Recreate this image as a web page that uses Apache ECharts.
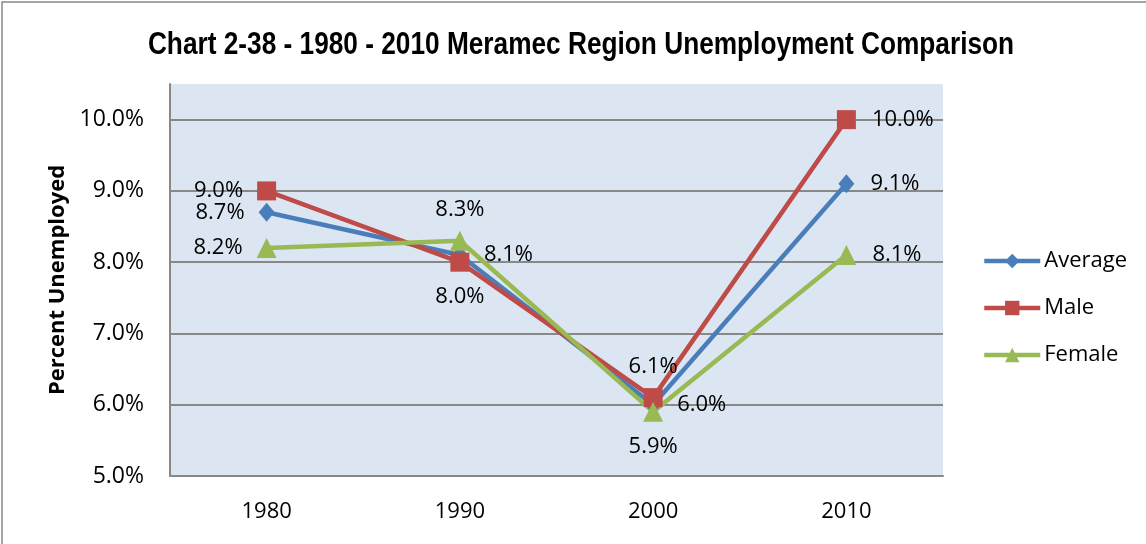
<!DOCTYPE html>
<html><head><meta charset="utf-8">
<script src="https://cdn.jsdelivr.net/npm/echarts@6/dist/echarts.min.js"></script>
<style>html,body{margin:0;padding:0;background:#fff}#c{width:1146px;height:544px}</style>
</head><body><div id="c"></div>
<script>
const categories = ['1980','1990','2000','2010'];
const average = [8.7, 8.1, 6.0, 9.1];
const male = [9.0, 8.0, 6.1, 10.0];
const female = [8.2, 8.3, 5.9, 8.1];
const averageLabelPos = ['left','right','right','right'];
const maleLabelPos = ['left','bottom','top','right'];
const femaleLabelPos = ['left','top','bottom','right'];
const titleText = 'Chart 2-38 - 1980 - 2010 Meramec Region Unemployment Comparison';
const yAxisName = 'Percent Unemployed';

const FONT = '"Liberation Sans", sans-serif';
const LFONT = '"Open Sans", "Noto Sans", sans-serif';
const DIST = { left: 14, right: 16, top: 10, bottom: 14 };

function mk(vals, pos) {
  return vals.map((v, i) => ({ value: v, label: { position: pos[i], distance: DIST[pos[i]] } }));
}
function series(name, vals, pos, color, symbol, size) {
  return {
    name, type: 'line', data: mk(vals, pos), symbol, symbolSize: size,
    lineStyle: { color, width: 4.5 }, itemStyle: { color },
    label: { show: true, fontFamily: LFONT, fontSize: 22, color: '#000',
      formatter: p => p.value.toFixed(1) + '%' },
    z: 3
  };
}
const chart = echarts.init(document.getElementById('c'), null, { renderer: 'canvas' });
chart.setOption({
  animation: false,
  graphic: [
    { type: 'rect', shape: { x: 2, y: 2, width: 1160, height: 560 },
      style: { fill: 'none', stroke: '#888', lineWidth: 1.5 }, silent: true },
    { type: 'text', x: 581, y: 45, scaleX: 0.82, originX: 0, originY: 0,
      style: { text: titleText, fontFamily: FONT, fontSize: 32, fontWeight: 'bold', fill: '#000',
        align: 'center', verticalAlign: 'middle' } }
  ],
  grid: { left: 170, right: 203, top: 84, bottom: 68, show: true, backgroundColor: '#DCE6F2', borderWidth: 0 },
  legend: { orient: 'vertical', left: 977, top: 245, itemWidth: 56, itemHeight: 18, itemGap: 25,
    lineStyle: { width: 4.5 },
    textStyle: { fontFamily: LFONT, fontSize: 22, color: '#000', padding: [0,0,0,-1] },
    data: ['Average','Male','Female'] },
  xAxis: { type: 'category', data: categories, boundaryGap: true,
    axisLine: { lineStyle: { color: '#888', width: 2 } }, axisTick: { show: false },
    axisLabel: { fontFamily: LFONT, fontSize: 22, color: '#000', margin: 25 } },
  yAxis: { type: 'value', min: 5, max: 10.5, interval: 1,
    name: yAxisName, nameLocation: 'middle', nameGap: 100, nameRotate: 90,
    nameTextStyle: { fontFamily: LFONT, fontSize: 22, fontWeight: 'bold', color: '#000' },
    axisLine: { show: true, lineStyle: { color: '#888', width: 2 } }, axisTick: { show: false },
    splitLine: { show: true, showMaxLine: false, lineStyle: { color: '#888', width: 2 } },
    axisLabel: { fontFamily: LFONT, fontSize: 23, color: '#000', margin: 26, showMaxLabel: false,
      formatter: v => v.toFixed(1) + '%' } },
  series: [
    series('Average', average, averageLabelPos, '#4A7EBB', 'diamond', [16, 19]),
    series('Male', male, maleLabelPos, '#BE4B48', 'rect', 19),
    series('Female', female, femaleLabelPos, '#98B954', 'triangle', 20)
  ]
});
</script></body></html>
